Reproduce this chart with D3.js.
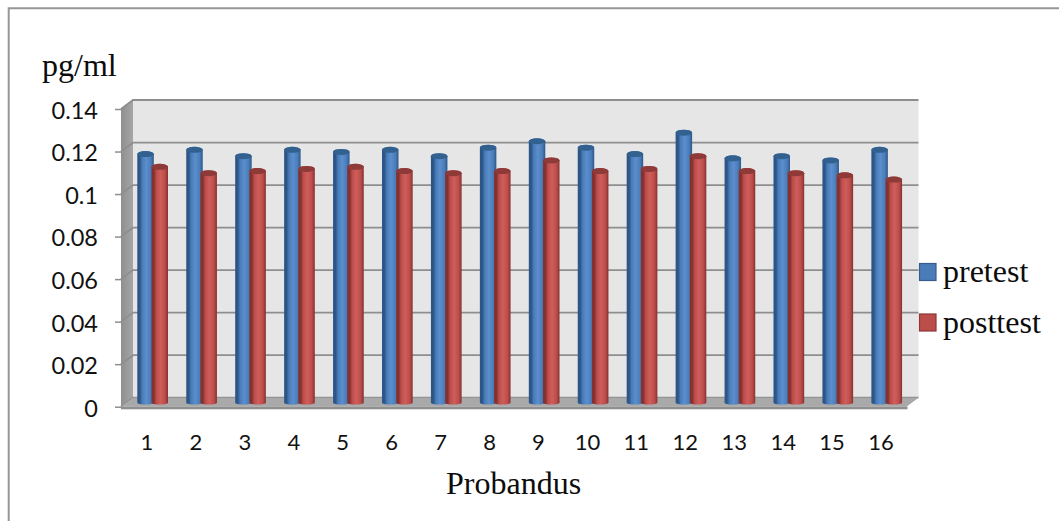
<!DOCTYPE html>
<html>
<head>
<meta charset="utf-8">
<script src="https://cdn.jsdelivr.net/npm/d3@7/dist/d3.min.js"></script>
<style>
  html, body { margin: 0; padding: 0; background: #fff; }
  svg { display: block; }
  .tick-label text { font-family: Lato, "Open Sans", sans-serif; font-size: 23.5px; fill: #111; }
  .tick-label.x-axis text { font-size: 22px; }
  .serif { font-family: "Liberation Serif", serif; font-size: 32px; fill: #0c0c0c; }
</style>
</head>
<body>
<svg id="chart" width="1059" height="521"></svg>
<script>
// values
var probandus = ['1','2','3','4','5','6','7','8','9','10','11','12','13','14','15','16'];
var pretest  = [0.117,0.119,0.116,0.119,0.118,0.119,0.116,0.120,0.123,0.120,0.117,0.127,0.115,0.116,0.114,0.119];
var posttest = [0.111,0.108,0.109,0.110,0.111,0.109,0.108,0.109,0.114,0.109,0.110,0.116,0.109,0.108,0.107,0.105];
var yTicks = [0,0.02,0.04,0.06,0.08,0.1,0.12,0.14];

var seriesNames = ['pretest','posttest'];
var seriesValues = [pretest, posttest];
var COLORS = {
  pretest:  { dark:'#2c5688', mid:'#4a7cb8', light:'#5b8ecd', top:'#33618f', stroke:'#385d8a' },
  posttest: { dark:'#853130', mid:'#bb4d4a', light:'#cf5e5b', top:'#8e3a38', stroke:'#8c3836' }
};

var svg = d3.select('#chart');
var defs = svg.append('defs');

// front plane of the 3d box, the back plane is shifted by dx/dy
var dx = 12, dy = -9;
var left = 121, right = 906.5;
var y = d3.scaleLinear().domain([0,0.14]).range([406.7,109]);
var x = d3.scaleBand().domain(probandus).range([122.5, 905.5]).padding(0);

// outer frame
svg.append('path')
  .attr('d','M8.7,521V8.2H1059')
  .attr('fill','none').attr('stroke','#969696').attr('stroke-width',2);

// back wall
svg.append('rect')
  .attr('x',left+dx).attr('y',y(0.14)+dy)
  .attr('width',right-left).attr('height',y(0)-y(0.14))
  .attr('fill','#e6e6e6');

// side wall
var wallGrad = defs.append('linearGradient').attr('id','wall').attr('x1',0).attr('x2',1);
wallGrad.append('stop').attr('offset','0%').attr('stop-color','#8f8f8f');
wallGrad.append('stop').attr('offset','100%').attr('stop-color','#a6a6a6');
svg.append('path')
  .attr('d',d3.line()([[left,y(0.14)],[left+dx,y(0.14)+dy],[left+dx,y(0)+dy],[left,y(0)]])+'Z')
  .attr('fill','url(#wall)');

// gridlines, back wall and the diagonal on the side wall
yTicks.forEach(function(t){
  svg.append('path')
    .attr('d',d3.line()([[left,y(t)],[left+dx,y(t)+dy],[right+dx,y(t)+dy]]))
    .attr('fill','none').attr('stroke','#8e8e8e').attr('stroke-width',1.8);
});

// floor
svg.append('path')
  .attr('d',d3.line()([[left,y(0)],[left+dx,y(0)+dy],[right+dx,y(0)+dy],[right,y(0)]])+'Z')
  .attr('fill','#a9a9a9');
svg.append('rect')
  .attr('x',left).attr('y',y(0)).attr('width',right-left+1).attr('height',2.6)
  .attr('fill','#8f8f8f');

// y axis
var yAxis = d3.axisLeft(y).tickValues(yTicks).tickSize(6).tickPadding(17)
  .tickFormat(function(d){ return String(d); });
var gy = svg.append('g').attr('class','tick-label')
  .attr('transform','translate('+left+',0)').call(yAxis);
gy.select('.domain').remove();
gy.selectAll('.tick line').attr('stroke','#8e8e8e').attr('stroke-width',1.5);
gy.selectAll('.tick text').attr('dy','0.4em');

// x axis
var xAxis = d3.axisBottom(x).tickSize(0).tickPadding(0);
var gx = svg.append('g').attr('class','tick-label x-axis')
  .attr('transform','translate(0,'+(y(0)+35)+')').call(xAxis);
gx.select('.domain').remove();
gx.selectAll('.tick text').attr('dy','0.36em');

// cylinder gradients
seriesNames.forEach(function(name){
  var c = COLORS[name];
  var g = defs.append('linearGradient').attr('id','cyl-'+name).attr('x1',0).attr('x2',1);
  g.append('stop').attr('offset','0%').attr('stop-color',c.dark);
  g.append('stop').attr('offset','15%').attr('stop-color',c.dark);
  g.append('stop').attr('offset','30%').attr('stop-color',c.mid);
  g.append('stop').attr('offset','55%').attr('stop-color',c.light);
  g.append('stop').attr('offset','82%').attr('stop-color',c.mid);
  g.append('stop').attr('offset','100%').attr('stop-color',c.dark);
});

// bars sit half way into the depth of the box
var barW = 16.5, ry = 3, baseY = y(0) - 3.9;
var h = y(0) - y(1);
function barX(cat, i){ return x(cat) + 14.8 + (i === 0 ? 0 : 14.2); }
function cylinder(px, top){
  var rx = barW/2;
  return 'M'+px+','+top
    + 'V'+baseY
    + 'A'+rx+',1.8 0 0 0 '+(px+barW)+','+baseY
    + 'V'+top
    + 'A'+rx+','+ry+' 0 0 0 '+px+','+top+'Z';
}

seriesNames.forEach(function(name, i){
  var c = COLORS[name];
  var g = svg.append('g').attr('class','series-'+name);
  g.selectAll('path')
    .data(seriesValues[i])
    .enter().append('path')
    .attr('d',function(d,j){ return cylinder(barX(probandus[j],i), baseY - d*h); })
    .attr('fill','url(#cyl-'+name+')');
  g.selectAll('ellipse')
    .data(seriesValues[i])
    .enter().append('ellipse')
    .attr('cx',function(d,j){ return barX(probandus[j],i)+barW/2; })
    .attr('cy',function(d){ return baseY - d*h; })
    .attr('rx',barW/2).attr('ry',ry)
    .attr('fill',c.top);
});

// legend
var legendY = [272,322.5];
seriesNames.forEach(function(name,i){
  var c = COLORS[name];
  svg.append('rect')
    .attr('x',919.5).attr('y',legendY[i]-8.5).attr('width',16.5).attr('height',17)
    .attr('fill',c.mid).attr('stroke',c.stroke).attr('stroke-width',1.2);
  svg.append('text').attr('class','serif')
    .attr('x',943).attr('y',legendY[i]+10).text(name);
});

// titles
svg.append('text').attr('class','serif').attr('x',42).attr('y',76).text('pg/ml');
svg.append('text').attr('class','serif').attr('x',446).attr('y',494).text('Probandus');
</script>
</body>
</html>
